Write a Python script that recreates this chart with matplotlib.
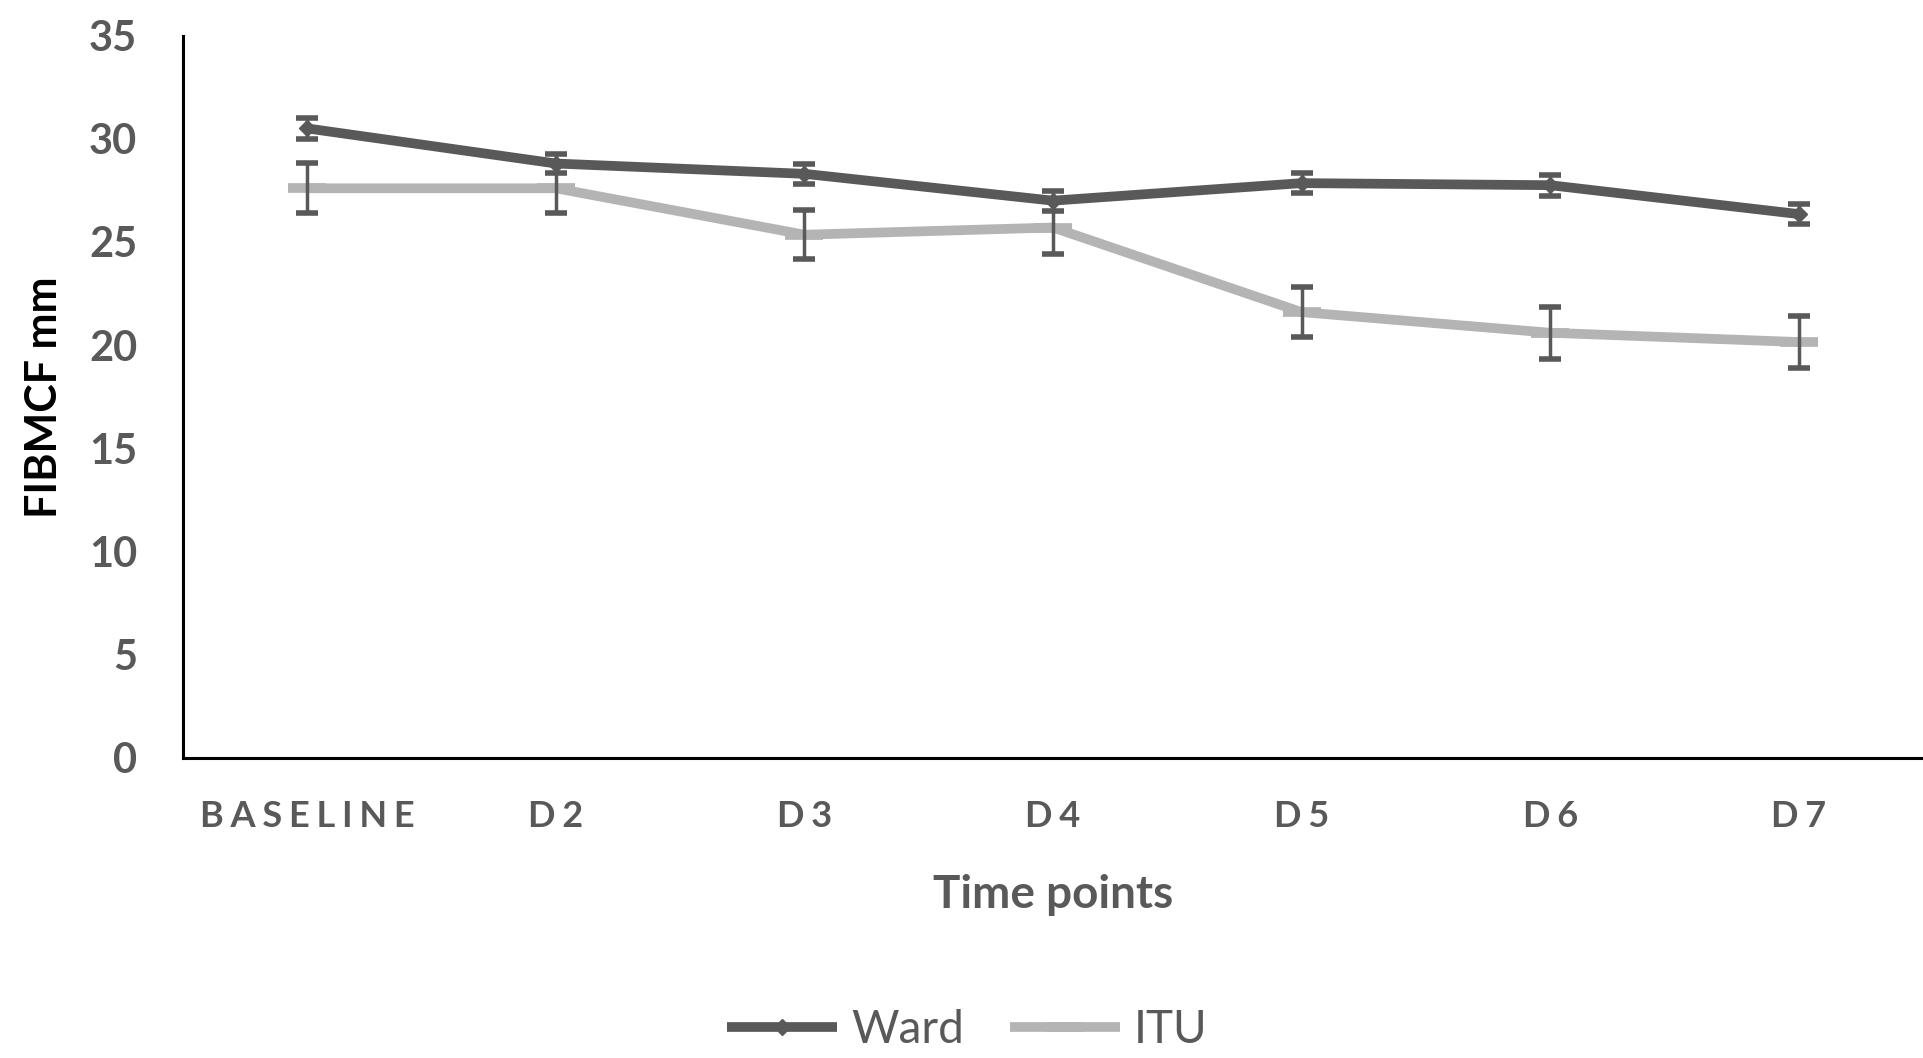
import matplotlib
matplotlib.use("Agg")
import matplotlib.pyplot as plt

time_points = ["BASELINE", "D2", "D3", "D4", "D5", "D6", "D7"]
ward_mean = [30.5, 28.8, 28.3, 27.0, 27.85, 27.75, 26.35]
ward_err = [0.5, 0.45, 0.48, 0.48, 0.48, 0.5, 0.5]
itu_mean = [27.6, 27.6, 25.35, 25.7, 21.6, 20.6, 20.15]
itu_err = [1.22, 1.2, 1.2, 1.3, 1.2, 1.25, 1.25]

dark = "#595959"
light = "#b4b4b4"
fonts = ["Lato", "DejaVu Sans"]
plt.rcParams["font.family"] = fonts

# spaced-out category labels, like the letter spacing in the original
spaced = ["\u2009\u200a".join(t) for t in time_points]
x = list(range(len(time_points)))

fig = plt.figure(figsize=(19.23, 10.58), dpi=100)
ax = fig.add_axes([0.0952, 0.2836, 0.9048, 0.6828])

ax.plot(x, ward_mean, color=dark, lw=7, marker="D", ms=8,
        solid_capstyle="butt", label="Ward", zorder=3)
ax.plot(x, itu_mean, color=light, lw=7, marker="_", ms=28, mew=7,
        solid_capstyle="butt", label="ITU", zorder=2)

ax.errorbar(x, ward_mean, yerr=ward_err, fmt="none", ecolor=dark,
            elinewidth=2.5, capsize=8, capthick=4, zorder=4)
ax.errorbar(x, itu_mean, yerr=itu_err, fmt="none", ecolor=dark,
            elinewidth=2.5, capsize=8, capthick=4, zorder=4)

ax.set_xlim(-0.5, 6.5)
ax.set_ylim(0, 35)
ax.set_yticks(range(0, 36, 5))
ax.set_xticks(x)
ax.set_xticklabels(spaced)

ax.spines["top"].set_visible(False)
ax.spines["right"].set_visible(False)
ax.spines["left"].set_linewidth(2.2)
ax.spines["bottom"].set_linewidth(2.2)
ax.tick_params(axis="both", length=0, colors=dark)
ax.tick_params(axis="y", pad=33, labelsize=30)
ax.tick_params(axis="x", pad=30, labelsize=26)
for lab in ax.get_xticklabels() + ax.get_yticklabels():
    lab.set_fontweight("bold")

ax.set_xlabel("Time points", fontsize=33, fontweight="bold", color=dark,
              labelpad=30)
ax.set_ylabel("FIBMCF mm", fontsize=31, fontweight="bold", color="black",
              labelpad=18)

fig.legend(loc="center", bbox_to_anchor=(0.503, 0.026), ncol=2,
           frameon=False, fontsize=33, labelcolor=dark, handlelength=2.4,
           handletextpad=0.3, columnspacing=1.0, borderpad=0.1)

fig.savefig("out.png", dpi=100)
